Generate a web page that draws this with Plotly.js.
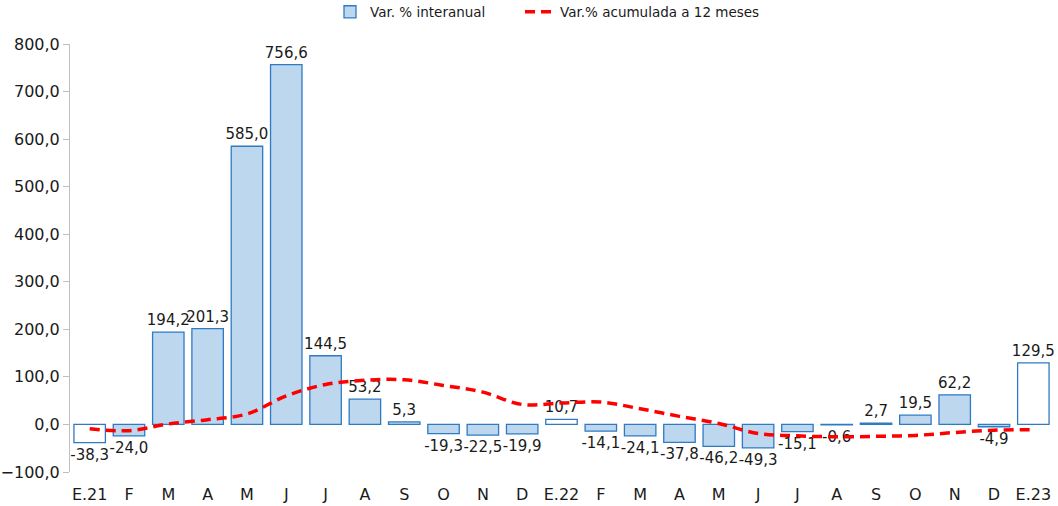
<!DOCTYPE html>
<html>
<head>
<meta charset="utf-8">
<script src="https://cdn.plot.ly/plotly-3.0.1.min.js"></script>
<style>html,body{margin:0;padding:0;background:#fff;}#chart{width:1058px;height:506px;}</style>
</head>
<body>
<div id="chart"></div>
<script>
const tickLabels = ["E.21","F","M","A","M","J","J","A","S","O","N","D","E.22","F","M","A","M","J","J","A","S","O","N","D","E.23"];
const interanual = [-38.3,-24.0,194.2,201.3,585.0,756.6,144.5,53.2,5.3,-19.3,-22.5,-19.9,10.7,-14.1,-24.1,-37.8,-46.2,-49.3,-15.1,-0.6,2.7,19.5,62.2,-4.9,129.5];
const acumulada12 = [-9,-13,1,10,22,60,84,93,94,82,68,42,45,47,33,17,2,-19,-24,-26,-25,-23,-17,-12,-11];
const whiteBars = ["E.21","E.22","E.23"];

const idx = tickLabels.map((_, i) => i);
const isWhite = tickLabels.map(l => whiteBars.includes(l));
const blueVals = interanual.map((v, i) => isWhite[i] ? null : v);
const whiteVals = interanual.map((v, i) => isWhite[i] ? v : null);
const FONT = 'DejaVu Sans, Arial, sans-serif';
const TXT = '#1a1a1a';

const barCommon = {
  type: 'bar', x: idx, texttemplate: '%{y:.1f}', textposition: 'outside', constraintext: 'none',
  cliponaxis: false, textfont: {family: FONT, size: 15, color: TXT}, hoverinfo: 'skip'
};

const traces = [
  Object.assign({}, barCommon, {
    y: blueVals, name: 'Var. % interanual', legend: 'legend',
    marker: {color: '#BDD7EE', line: {color: '#2E7BC4', width: 1.3}}
  }),
  Object.assign({}, barCommon, {
    y: whiteVals, name: 'Var. % interanual', showlegend: false,
    marker: {color: '#FFFFFF', line: {color: '#2E7BC4', width: 1.3}}
  }),
  {
    type: 'scatter', mode: 'lines', x: idx, y: acumulada12, name: 'Var.% acumulada a 12 meses',
    legend: 'legend2',
    line: {color: '#FF0000', width: 3.5, dash: '10px,6px', shape: 'spline', smoothing: 1},
    hoverinfo: 'skip'
  }
];

const bounds = [];
for (let i = 0; i <= tickLabels.length; i++) bounds.push(i - 0.5);

const legFont = {family: FONT, size: 13.5, color: TXT};
const layout = {
  width: 1058, height: 506,
  margin: {l: 70, r: 5, t: 44, b: 34, pad: 0, autoexpand: false},
  paper_bgcolor: '#fff', plot_bgcolor: '#fff',
  separators: ',.',
  barmode: 'overlay',
  bargap: 0.2,
  font: {family: FONT, size: 14.5, color: TXT},
  showlegend: true,
  legend: {orientation: 'h', x: (330 - 70) / 983, xanchor: 'left', y: 1 + 32 / 428, yanchor: 'middle',
           font: legFont},
  legend2: {orientation: 'h', x: (520 - 70) / 983, xanchor: 'left', y: 1 + 32 / 428, yanchor: 'middle',
           font: legFont},
  xaxis: {range: [-0.5, tickLabels.length - 0.5], tickvals: idx, ticktext: tickLabels,
          ticks: '', showline: false, showgrid: false, zeroline: false, ticklabelstandoff: 11,
          tickfont: {family: FONT, size: 16, color: TXT}, fixedrange: true},
  xaxis2: {overlaying: 'x', anchor: 'free', position: 100/900, side: 'bottom',
           range: [-0.5, tickLabels.length - 0.5], tickvals: bounds, showticklabels: false,
           ticks: 'outside', ticklen: 5, tickcolor: '#BFBFBF', showline: true, linecolor: '#BFBFBF',
           linewidth: 1, showgrid: false, zeroline: false},
  yaxis: {range: [-100, 800], dtick: 100, tickformat: '.1f', ticks: 'outside', ticklen: 6,
          tickcolor: '#BFBFBF', showline: true, linecolor: '#BFBFBF', linewidth: 1,
          showgrid: false, zeroline: false, tickfont: {family: FONT, size: 16, color: TXT}}
};

Plotly.newPlot('chart', traces, layout, {staticPlot: true, displayModeBar: false});
</script>
</body>
</html>
